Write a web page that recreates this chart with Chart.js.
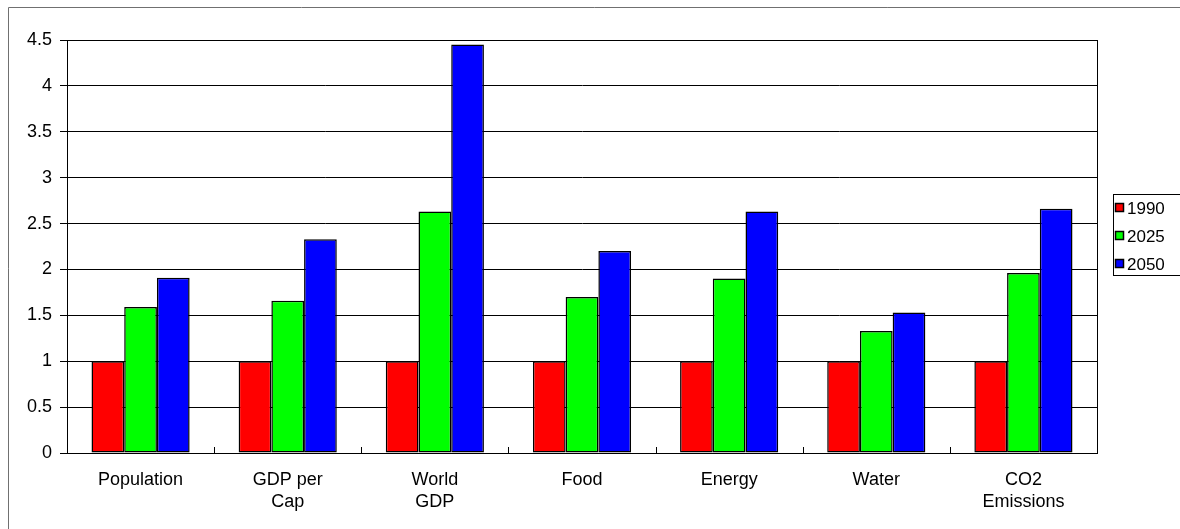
<!DOCTYPE html>
<html>
<head>
<meta charset="utf-8">
<script src="https://cdn.jsdelivr.net/npm/chart.js@4/dist/chart.umd.min.js"></script>
<style>
  html, body { margin: 0; padding: 0; background: #fff; }
  #wrap { width: 1180px; height: 529px; position: relative; }
</style>
</head>
<body>
<div id="wrap"><canvas id="chart" width="1180" height="529"></canvas></div>
<script>
// categories and series values (1990 = 1.0 index)
const categories = ['Population', ['GDP per', 'Cap'], ['World', 'GDP'], 'Food', 'Energy', 'Water', ['CO2', 'Emissions']];
const seriesNames = ['1990', '2025', '2050'];
const values1990 = [1, 1, 1, 1, 1, 1, 1];
const values2025 = [1.59, 1.66, 2.63, 1.70, 1.90, 1.33, 1.96];
const values2050 = [1.91, 2.33, 4.45, 2.20, 2.63, 1.53, 2.66];
const yTicks = [0, 0.5, 1, 1.5, 2, 2.5, 3, 3.5, 4, 4.5];

const colors = ['#ff0000', '#00ff00', '#0000ff'];
const fontFamily = '"Liberation Sans", Arial, sans-serif';

// frame, plot border, inside category ticks and the boxed legend
const decorations = {
    id: 'decorations',
    afterDraw(chart) {
        const ctx = chart.ctx;
        const area = chart.chartArea;
        const x = chart.scales.x;
        ctx.save();

        // outer chart frame (cropped on right and bottom)
        ctx.strokeStyle = '#707070';
        ctx.lineWidth = 1;
        ctx.beginPath();
        ctx.moveTo(8.5, 600);
        ctx.lineTo(8.5, 7.5);
        ctx.lineTo(1300, 7.5);
        ctx.stroke();

        // plot area border
        ctx.strokeStyle = '#000';
        ctx.strokeRect(Math.round(area.left) + 0.5, Math.round(area.top) + 0.5,
            Math.round(area.right - area.left), Math.round(area.bottom - area.top));

        // small tick marks between categories, pointing into the plot
        ctx.beginPath();
        for (let i = 1; i < categories.length; i++) {
            const px = Math.round((x.getPixelForTick(i - 1) + x.getPixelForTick(i)) / 2) + 0.5;
            ctx.moveTo(px, area.bottom);
            ctx.lineTo(px, area.bottom - 6);
        }
        ctx.stroke();

        // legend box
        const lx = Math.round(area.right) + 16;
        const ly = 194;
        ctx.fillStyle = '#fff';
        ctx.fillRect(lx, ly, 200, 81);
        ctx.strokeStyle = '#000';
        ctx.strokeRect(lx + 0.5, ly + 0.5, 200, 81);

        ctx.font = '17px ' + fontFamily;
        ctx.textBaseline = 'middle';
        chart.data.datasets.forEach((ds, i) => {
            const cy = ly + 14 + i * 28;
            ctx.fillStyle = ds.backgroundColor;
            ctx.fillRect(lx + 2.5, cy - 4.5, 8, 8);
            ctx.strokeStyle = '#000';
            ctx.lineWidth = 1.5;
            ctx.strokeRect(lx + 2.5, cy - 4.5, 8, 8);
            ctx.fillStyle = '#000';
            ctx.fillText(ds.label, lx + 14, cy + 1);
        });
        ctx.restore();
    }
};

const seriesValues = [values1990, values2025, values2050];

new Chart(document.getElementById('chart'), {
    type: 'bar',
    data: {
        labels: categories,
        datasets: seriesNames.map((name, i) => ({
            label: name,
            data: seriesValues[i],
            backgroundColor: colors[i],
            borderColor: '#000',
            borderWidth: 1.5,
            borderSkipped: false,
            categoryPercentage: 0.667,
            barPercentage: 1.0
        }))
    },
    options: {
        responsive: false,
        animation: false,
        events: [],
        layout: { padding: { left: 0, top: 40, right: 83, bottom: 0 } },
        plugins: {
            legend: { display: false },
            tooltip: { enabled: false }
        },
        scales: {
            x: {
                grid: { display: false, drawTicks: false },
                border: { display: true, color: '#000', width: 1 },
                ticks: {
                    color: '#000',
                    padding: 16,
                    maxRotation: 0,
                    autoSkip: false,
                    font: { family: fontFamily, size: 18, lineHeight: 1.22 }
                },
                afterFit(scale) { scale.height = 76; }
            },
            y: {
                min: 0,
                max: 4.5,
                afterBuildTicks(scale) { scale.ticks = yTicks.map(v => ({ value: v })); },
                grid: { color: '#000', lineWidth: 1, drawTicks: true, tickLength: 7, tickColor: '#000' },
                border: { display: true, color: '#000', width: 1 },
                ticks: {
                    color: '#000',
                    padding: 8,
                    font: { family: fontFamily, size: 18 },
                    callback: v => String(v)
                },
                afterFit(scale) { scale.width = 67; }
            }
        }
    },
    plugins: [decorations]
});
</script>
</body>
</html>
